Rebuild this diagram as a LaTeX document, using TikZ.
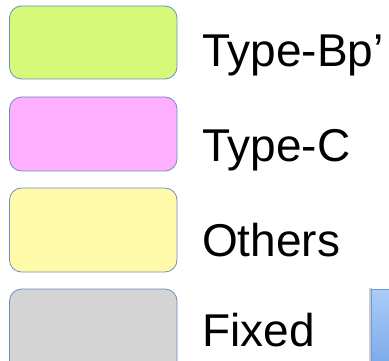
\documentclass[tikz,border=0pt]{standalone}
\usepackage{fontspec}
\setmainfont{Liberation Sans}
\begin{document}
\begin{tikzpicture}[x=1pt,y=-1pt,
  swatch/.style={draw=blue!45!gray!80, line width=0.8pt, rounded corners=12pt},
  lbl/.style={anchor=base west, inner sep=0pt, font=\fontsize{46}{50}\selectfont}]
\useasboundingbox (0,0) rectangle (389,361);
\definecolor{cgreen}{RGB}{214,249,122}
\definecolor{cpink}{RGB}{255,175,255}
\definecolor{cyellow}{RGB}{255,250,170}
\definecolor{cgray}{RGB}{212,212,212}
\definecolor{cborder}{RGB}{108,142,191}
\tikzset{swatch/.style={draw=cborder, line width=0.8pt, rounded corners=12pt}}
\draw[swatch, fill=cgreen] (9.5,6) rectangle (177,79);
\draw[swatch, fill=cpink] (9.5,97) rectangle (177,171);
\draw[swatch, fill=cyellow] (9.5,188) rectangle (177,272);
\draw[swatch, fill=cgray] (9.5,289) rectangle (177,375);
\node[lbl] (t1) at (202,67) {Type-Bp’};
\node[lbl] (t2) at (202,162) {Type-C};
\node[lbl] (t3) at (202,257) {Others};
\node[lbl] (t4) at (202,346) {Fixed};
\fill[gray!40] (369,288) rectangle (372,370);
\shade[top color={rgb,255:red,170;green,204;blue,248}, bottom color={rgb,255:red,120;green,168;blue,232}, draw={rgb,255:red,110;green,150;blue,210}] (371,289) rectangle (400,370);
\end{tikzpicture}
\end{document}
